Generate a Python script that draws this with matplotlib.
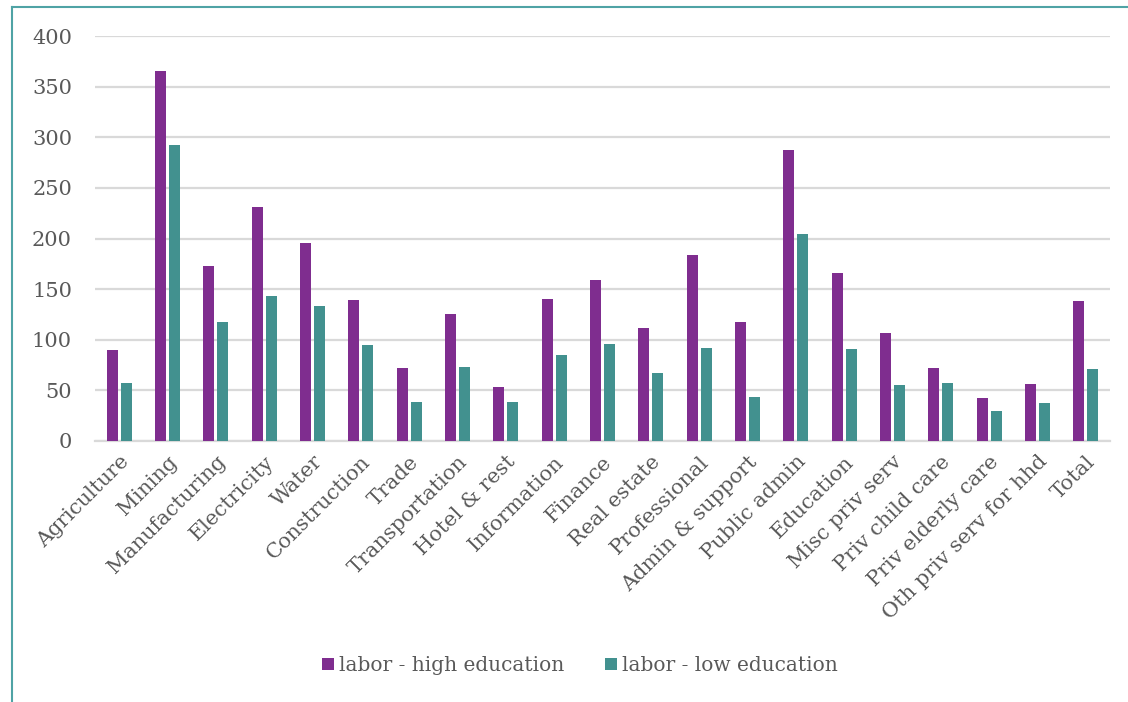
import numpy as np
import matplotlib
matplotlib.use('Agg')
import matplotlib.pyplot as plt
from matplotlib.lines import Line2D

### DATA
industries = ['Agriculture', 'Mining', 'Manufacturing', 'Electricity', 'Water',
              'Construction', 'Trade', 'Transportation', 'Hotel & rest', 'Information',
              'Finance', 'Real estate', 'Professional', 'Admin & support', 'Public admin',
              'Education', 'Misc priv serv', 'Priv child care', 'Priv elderly care',
              'Oth priv serv for hhd', 'Total']
high_edu = [90, 365, 173, 231, 196, 139, 72, 125, 53, 140, 159, 112, 184, 118, 287,
            166, 107, 72, 42, 56, 138]
low_edu = [57, 292, 118, 143, 133, 95, 39, 73, 39, 85, 96, 67, 92, 43, 204,
           91, 55, 57, 30, 38, 71]
yticks = [0, 50, 100, 150, 200, 250, 300, 350, 400]

purple = '#7F2D8F'
teal = '#42918F'
txt = '#595959'

plt.rcParams['font.family'] = ['DejaVu Serif']

fig = plt.figure(figsize=(11.28, 7.02), dpi=100)
ax = fig.add_axes([0.0842, 0.3718, 0.984 - 0.0842, 0.9487 - 0.3718])

x = np.arange(len(industries))
w = 0.23
off = 0.145
ax.bar(x - off, high_edu, w, color=purple, label='labor - high education', zorder=3)
ax.bar(x + off, low_edu, w, color=teal, label='labor - low education', zorder=3)

ax.set_xlim(-0.5, len(industries) - 0.5)
ax.set_ylim(0, 400)
ax.set_yticks(yticks)
ax.yaxis.grid(True, color='#D9D9D9', linewidth=1.6, zorder=0)
ax.set_axisbelow(True)
for s in ['top', 'right', 'left']:
    ax.spines[s].set_visible(False)
ax.spines['bottom'].set_color('#D9D9D9')
ax.spines['bottom'].set_linewidth(1.6)
ax.tick_params(axis='both', length=0, colors=txt, labelsize=15)
ax.tick_params(axis='y', pad=16.5)
ax.set_xticks(x)
ax.set_xticklabels(industries, rotation=45, ha='right', rotation_mode='anchor')
ax.tick_params(axis='x', pad=8)

leg = fig.legend(loc='center', bbox_to_anchor=(0.514, 0.052), ncol=2, frameon=False,
                 fontsize=14.5, handlelength=0.6, handleheight=0.6, handletextpad=0.25,
                 columnspacing=2.0)
for t in leg.get_texts():
    t.set_color(txt)

# frame lines of the surrounding box
fig.add_artist(Line2D([12 / 1128, 1], [1 - 7 / 702, 1 - 7 / 702], color='#4FA3A5', lw=1.5,
                      transform=fig.transFigure))
fig.add_artist(Line2D([12 / 1128, 12 / 1128], [0, 1 - 7 / 702], color='#4FA3A5', lw=1.5,
                      transform=fig.transFigure))

fig.savefig('out.png', dpi=100)
